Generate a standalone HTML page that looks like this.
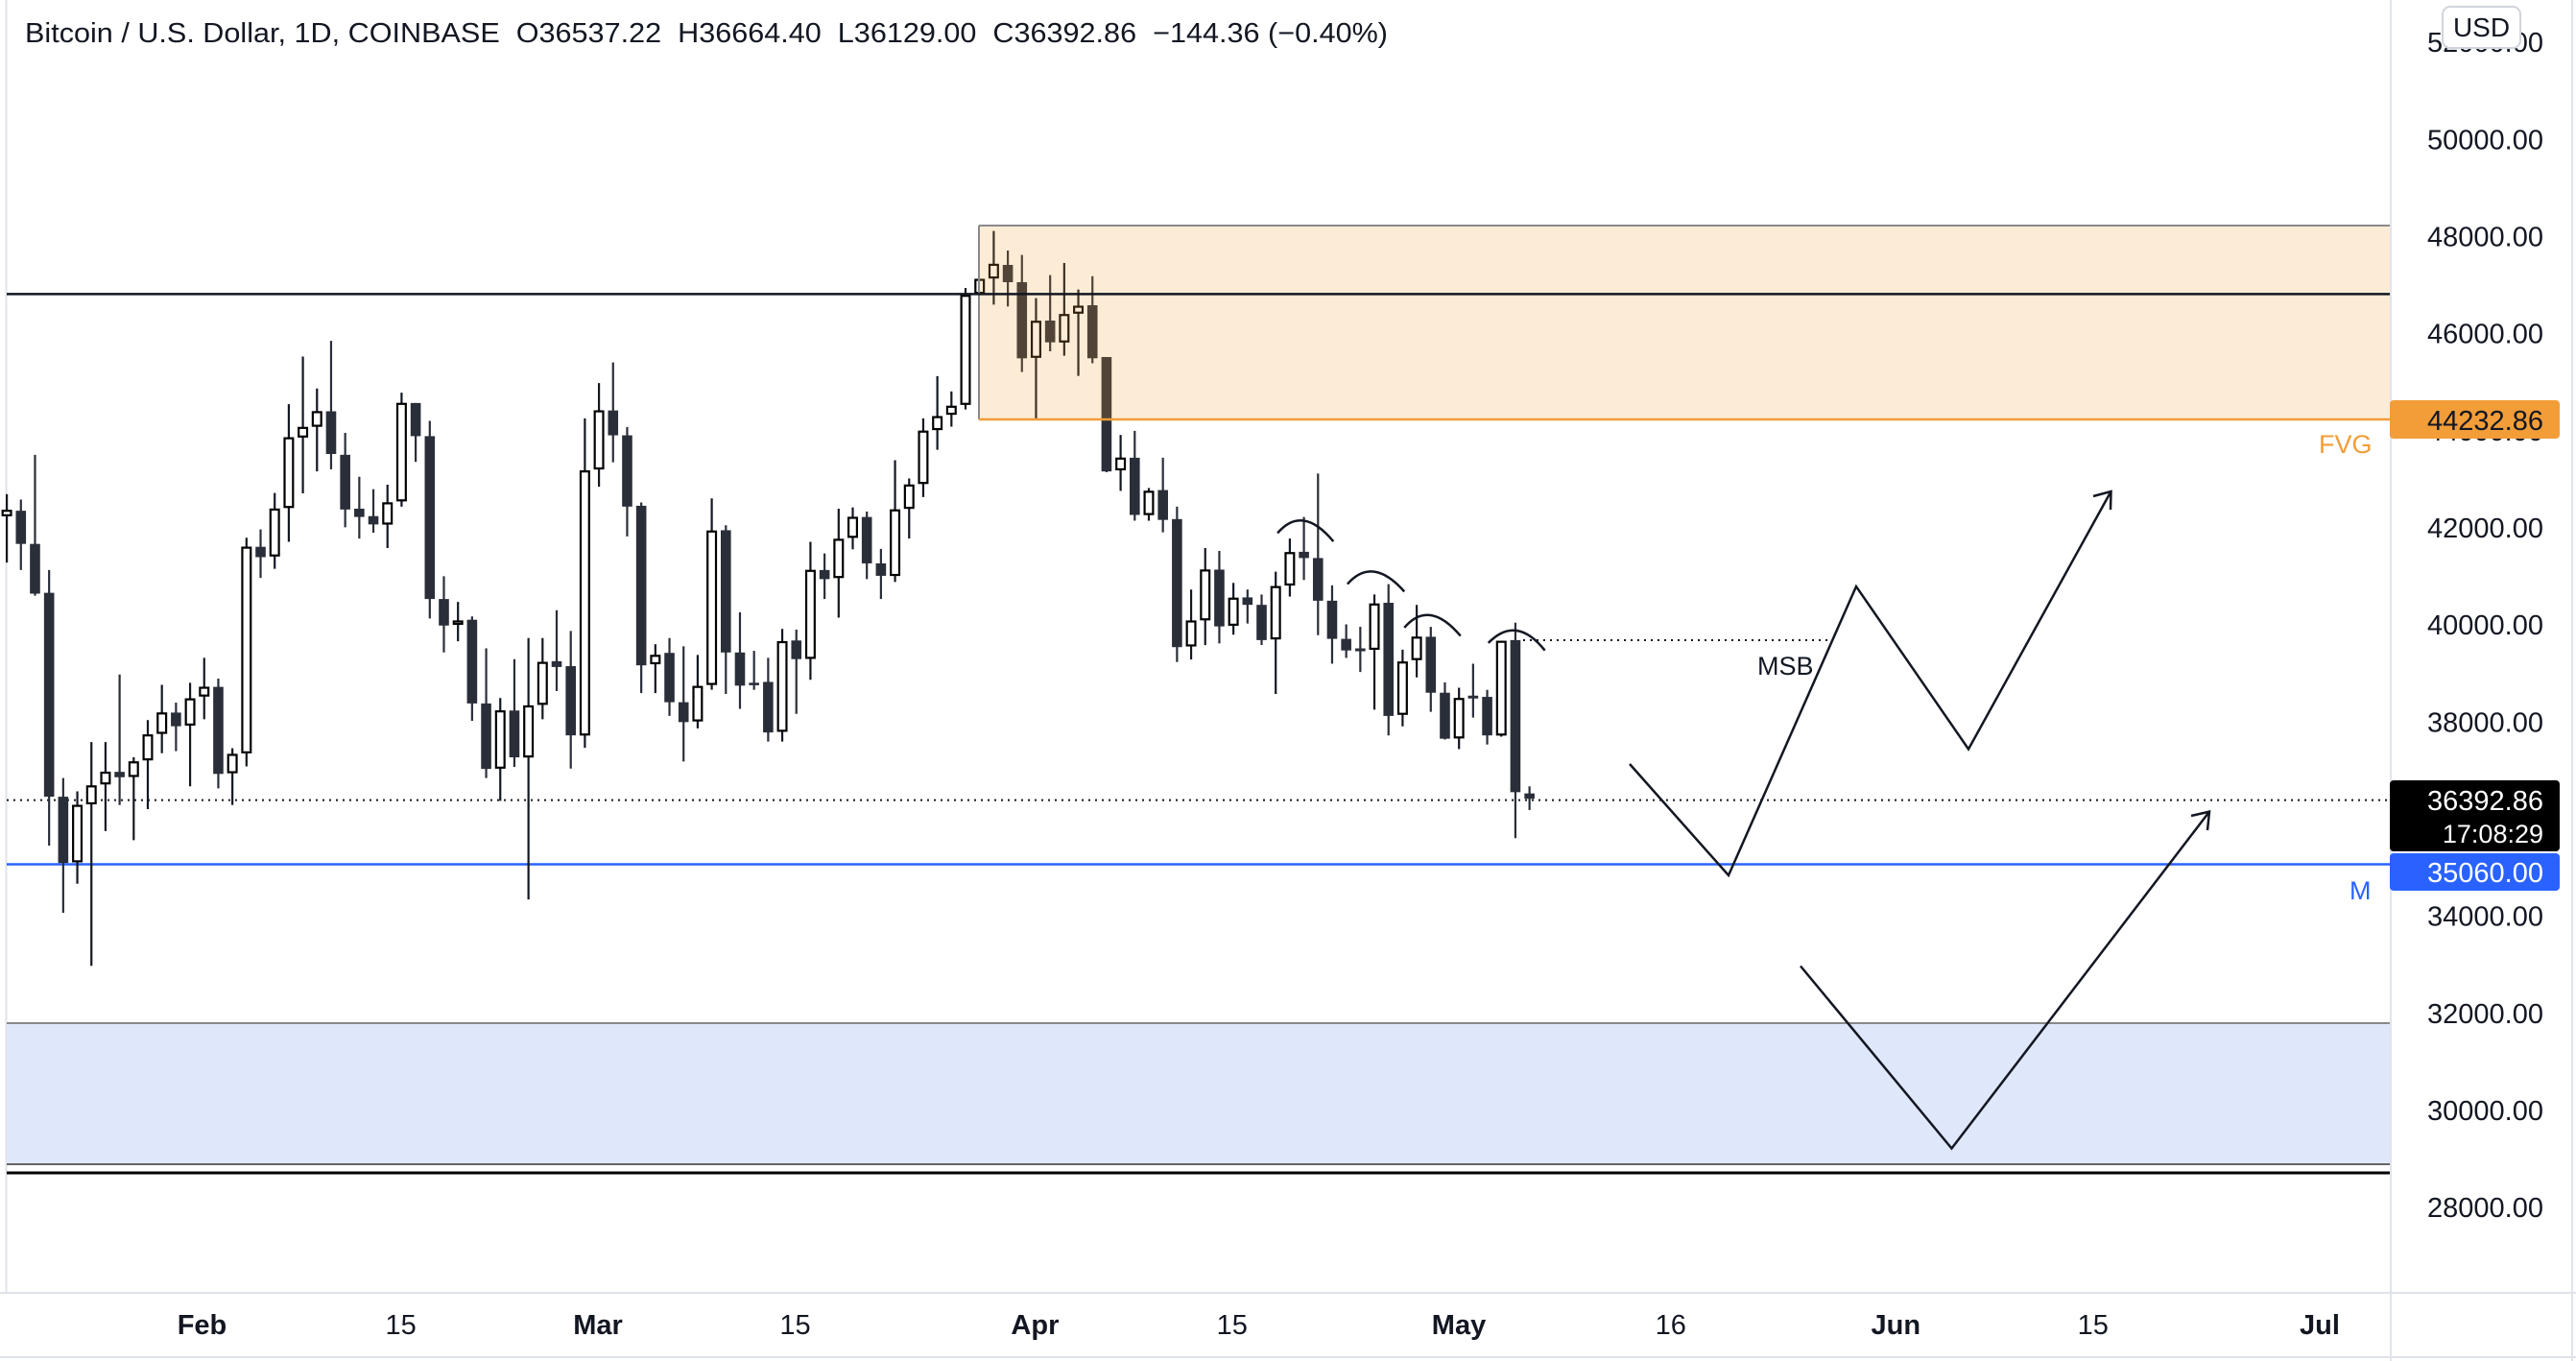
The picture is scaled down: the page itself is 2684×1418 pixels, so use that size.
<!DOCTYPE html>
<html><head><meta charset="utf-8">
<style>
html,body{margin:0;padding:0;background:#fff;}
svg{display:block;}
text{font-family:"Liberation Sans",sans-serif;}
</style></head>
<body>
<svg id="s" xmlns="http://www.w3.org/2000/svg" width="2684" height="1418" viewBox="0 0 2684 1418">
<rect x="0" y="0" width="2684" height="1418" fill="#fff"/>
<!-- left border -->
<line x1="6.5" y1="0" x2="6.5" y2="1347" stroke="#e0e3eb" stroke-width="2"/>
<!-- blue zone -->
<rect x="7" y="1066" width="2483" height="147" fill="#dfe7fb"/>
<line x1="7" y1="1066" x2="2490" y2="1066" stroke="#888" stroke-width="2"/>
<line x1="7" y1="1213" x2="2490" y2="1213" stroke="#666" stroke-width="2"/>
<line x1="7" y1="1222" x2="2490" y2="1222" stroke="#000" stroke-width="3"/>
<!-- blue line -->
<line x1="7" y1="900.5" x2="2490" y2="900.5" stroke="#2962ff" stroke-width="2.5"/>
<!-- dotted current price -->
<line x1="7" y1="833.6" x2="2490" y2="833.6" stroke="#131722" stroke-width="2" stroke-dasharray="2,5"/>
<!-- MSB dotted -->
<line x1="1587" y1="667" x2="1904" y2="667" stroke="#131722" stroke-width="2" stroke-dasharray="2,5"/>
<g id="candles"></g>
<!-- FVG box -->
<rect x="1020" y="235" width="1470" height="202" fill="rgba(240,160,50,0.2)"/>
<line x1="1020" y1="235" x2="2490" y2="235" stroke="#8a8a8a" stroke-width="2"/>
<line x1="1020" y1="235" x2="1020" y2="437" stroke="#8a8a8a" stroke-width="2"/>
<line x1="1020" y1="437" x2="2490" y2="437" stroke="#f29d38" stroke-width="2.5"/>
<line x1="7" y1="306.4" x2="2490" y2="306.4" stroke="#131722" stroke-width="2.5"/>
<g id="arcs" fill="none" stroke="#131722" stroke-width="2.5"></g>
<!-- zigzags -->
<g fill="none" stroke="#131722" stroke-width="2.5" stroke-linejoin="miter">
<polyline points="1698,796 1801,912 1934,611 2051,780.5 2199.5,512"/>
<polyline points="2181,517 2199.5,512 2199,531"/>
<polyline points="1876,1006.5 2033.5,1196.5 2302,845.6"/>
<polyline points="2283,850 2302,845.6 2300,865"/>
</g>
<text x="1831" y="703" font-size="27" fill="#131722">MSB</text>
<text x="2416" y="472" font-size="27" fill="#f29d38">FVG</text>
<text x="2448" y="937" font-size="27" fill="#2962ff">M</text>
<!-- header -->
<text x="26" y="44" font-size="29" fill="#131722" textLength="1420" lengthAdjust="spacingAndGlyphs" xml:space="preserve">Bitcoin / U.S. Dollar, 1D, COINBASE  O36537.22  H36664.40  L36129.00  C36392.86  −144.36 (−0.40%)</text>
<!-- right axis -->
<rect x="2490" y="0" width="194" height="1418" fill="#fff"/>
<line x1="2491" y1="0" x2="2491" y2="1418" stroke="#e0e3eb" stroke-width="2"/>
<line x1="2680" y1="0" x2="2680" y2="1418" stroke="#e0e3eb" stroke-width="2"/>
<g id="plabels" font-size="29" fill="#131722" text-anchor="end"></g>
<rect x="2490" y="417" width="177" height="40" rx="4" fill="#f29d38"/>
<text x="2650" y="448" font-size="29" fill="#131722" text-anchor="end">44232.86</text>
<rect x="2490" y="813" width="177" height="74" rx="4" fill="#000"/>
<text x="2650" y="844" font-size="29" fill="#fff" text-anchor="end">36392.86</text>
<text x="2650" y="878" font-size="27" fill="#fff" text-anchor="end">17:08:29</text>
<rect x="2490" y="889" width="177" height="39" rx="4" fill="#2962ff"/>
<text x="2650" y="919" font-size="29" fill="#fff" text-anchor="end">35060.00</text>
<rect x="2545" y="7" width="81" height="43" rx="8" fill="#fff" stroke="#d1d4dc" stroke-width="2"/>
<text x="2585.5" y="38" font-size="28" fill="#131722" text-anchor="middle">USD</text>
<!-- bottom axis -->
<rect x="0" y="1347" width="2490" height="71" fill="#fff"/>
<line x1="0" y1="1347" x2="2684" y2="1347" stroke="#e0e3eb" stroke-width="2"/>
<line x1="0" y1="1414" x2="2684" y2="1414" stroke="#e0e3eb" stroke-width="2"/>
<g font-size="29" fill="#131722" text-anchor="middle">
<text x="210.5" y="1390" font-weight="bold">Feb</text>
<text x="417.6" y="1390">15</text>
<text x="623" y="1390" font-weight="bold">Mar</text>
<text x="828.5" y="1390">15</text>
<text x="1078.4" y="1390" font-weight="bold">Apr</text>
<text x="1283.8" y="1390">15</text>
<text x="1520" y="1390" font-weight="bold">May</text>
<text x="1740.8" y="1390">16</text>
<text x="1975.3" y="1390" font-weight="bold">Jun</text>
<text x="2180.7" y="1390">15</text>
<text x="2417" y="1390" font-weight="bold">Jul</text>
</g>
</svg>
<script>
(function(){
var NS="http://www.w3.org/2000/svg";
var D=[
[1,0,405,443,458,570],[1,1,418,445,525,588],[1,1,310,525,645,650],[1,1,588,643,1135,1253],[1,1,1090,1135,1295,1415],
[1,0,1122,1155,1293,1345],[1,0,1003,1108,1153,1543],[1,0,1003,1075,1105,1218],[1,1,840,1075,1088,1155],[1,0,1040,1050,1087,1240],
[1,0,950,985,1047,1165],[1,0,865,932,983,1030],[1,1,908,932,965,1025],[1,0,860,898,963,1110],[1,0,800,870,893,948],
[1,1,850,870,1080,1115],[1,0,1018,1032,1078,1155],[1,0,510,532,1030,1062],[1,1,490,532,557,607],[1,0,402,440,555,585],
[1,0,188,268,438,520],[1,0,73,243,268,403],[1,0,150,205,242,350],[1,1,35,205,308,345],[1,1,257,310,442,485],
[1,1,363,440,460,512],[1,1,393,458,478,498],[1,0,382,425,478,535],[1,0,160,185,422,435],[1,1,185,185,265,327],
[1,1,228,265,658,705],[1,1,603,658,722,787],[1,0,665,710,720,760],[1,1,700,708,910,952],[1,1,777,910,1068,1090],
[1,0,897,927,1067,1145],[1,1,803,927,1040,1063],[1,0,752,915,1040,1383],
[2,0,752,810,913,948],[2,1,685,808,822,880],[2,1,735,820,987,1067],[2,0,222,348,987,1017],[2,0,137,203,345,387],
[2,1,87,203,263,328],[2,1,243,263,435,507],[2,1,425,433,818,885],[2,0,767,793,815,885],[2,1,752,788,907,940],
[2,1,772,907,955,1050],[2,0,793,868,953,970],[2,0,415,493,865,877],[2,1,480,492,787,887],[2,1,690,787,867,923],
[2,1,783,860,866,877],[2,1,800,858,980,1002],[2,0,730,760,978,1002],[2,1,732,758,803,935],[2,0,520,588,802,853],
[2,1,548,588,610,658],[2,0,440,513,607,703],[2,0,437,460,510,538],[2,1,447,460,572,610],[2,1,537,572,602,658],
[2,0,323,442,602,617],[2,0,367,382,440,512],[2,0,222,252,380,412],[2,0,120,217,250,298],[2,0,157,192,213,242],
[5,0,240,262,605,620],[5,0,212,212,258,262],[5,0,62,165,210,292],[5,1,123,168,222,298],[5,1,137,222,460,503],
[5,0,272,343,458,650],[5,1,200,342,410,438],[5,0,162,322,410,452],[5,0,245,296,320,515],
[3,1,157,227,355,367],[3,1,352,352,628,630],[3,0,540,595,625,675],[3,1,530,595,733,747],[3,0,668,675,733,747],
[3,1,595,673,745,775],[3,1,713,743,1052,1088],[3,0,913,988,1050,1082],[3,0,813,865,987,1047],[3,1,820,865,1002,1043],
[3,0,897,933,1000,1022],[3,1,913,932,950,995],[3,1,925,950,1035,1047],[3,0,870,905,1033,1165],[3,0,790,823,903,930],
[3,1,738,822,837,890],[3,1,633,837,940,1023],[3,1,903,940,1032,1092],[3,1,997,1032,1060,1078],[3,1,1003,1057,1060,1112],
[3,0,925,947,1058,1203],[3,1,900,945,1218,1265],[3,0,1058,1087,1215,1243],[3,0,950,1027,1083,1125],[3,1,1003,1027,1162,1208],
[3,1,1137,1162,1273,1275],[3,0,1150,1175,1272,1298],[3,1,1092,1170,1175,1222],[3,1,1155,1172,1265,1287],[3,0,1037,1037,1265,1268],
[3,1,993,1035,1402,1513],[3,1,1388,1405,1418,1445]
];
function cy(z,v){ if(z==1||z==2) return 340+v/2.316; if(z==3) return 220+v/2.316; return 220+v/3; }
var g=document.getElementById("candles");
function el(t,a){var e=document.createElementNS(NS,t);for(var k in a)e.setAttribute(k,a[k]);return e;}
for(var i=0;i<D.length;i++){
  var d=D[i],z=d[0],x=7.1+i*14.69;
  var wt=cy(z,d[2]),bt=cy(z,d[3]),bb=cy(z,d[4]),wb=cy(z,d[5]);
  if(bb-bt<2.5){var m=(bt+bb)/2;bt=m-1.5;bb=m+1.5;}
  g.appendChild(el("line",{x1:x,y1:wt,x2:x,y2:wb,stroke:d[1]?"#2a2e39":"#131722","stroke-width":2.2}));
  if(d[1]) g.appendChild(el("rect",{x:x-5.3,y:bt,width:10.6,height:bb-bt,fill:"#2a2e39"}));
  else g.appendChild(el("rect",{x:x-4.4,y:bt+0.9,width:8.8,height:Math.max(bb-bt-1.8,1),fill:"#fff",stroke:"#000","stroke-width":2.2}));
}
var A=[[703,777,780,747,866,797],[907,900,985,870,1073,918],[1073,1005,1150,975,1237,1025],[1318,1042,1400,1012,1483,1060]];
var ag=document.getElementById("arcs");
A.forEach(function(a){
  function X(v){return 1080+v/2.8;} function Y(v){return 220+v/2.316;}
  var x1=X(a[0]),y1=Y(a[1]),px=X(a[2]),py=Y(a[3]),x2=X(a[4]),y2=Y(a[5]);
  var cxp=2*px-(x1+x2)/2, cyp=2*py-(y1+y2)/2;
  ag.appendChild(el("path",{d:"M"+x1+","+y1+" Q"+cxp+","+cyp+" "+x2+","+y2}));
});
var pl=document.getElementById("plabels");
for(var p=52000;p>=28000;p-=2000){
  var y=1.7117*(144+(48000-p)/2000*59.1);
  var t=el("text",{x:2650,y:y+10});t.textContent=p.toFixed(2);pl.appendChild(t);
}
})();
</script>
</body></html>
